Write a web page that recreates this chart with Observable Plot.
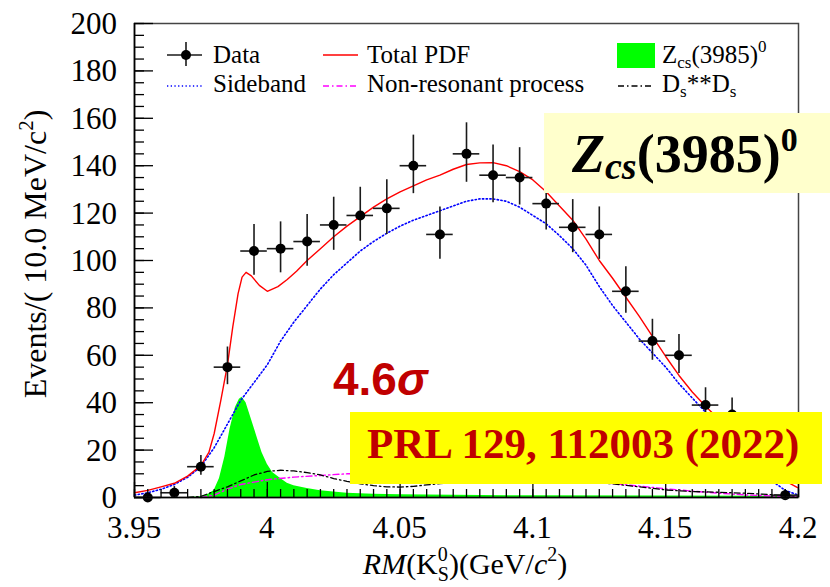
<!DOCTYPE html>
<html><head><meta charset="utf-8">
<script src="https://cdn.jsdelivr.net/npm/d3@7"></script>
<script src="https://cdn.jsdelivr.net/npm/@observablehq/plot@0.6"></script>
<style>html,body{margin:0;padding:0;background:#fff;} svg{display:block}</style>
</head><body><div id="chart"></div>
<script>
// ---------- data ----------
const binCenters = [3.955,3.965,3.975,3.985,3.995,4.005,4.015,4.025,4.035,4.045,4.055,4.065,4.075,4.085,4.095,4.105,4.115,4.125,4.135,4.145,4.155,4.165,4.175,4.185,4.195];
const counts     = [0,2,13,55,104,105,108,115,119,122,140,111,145,136,135,124,114,111,87,66,60,39,35,18,1];
const errLow     = [0,1.3,3.6,7.4,10.2,10.2,10.4,10.7,10.9,11.0,11.8,10.5,12.0,11.6,11.6,11.1,10.7,10.5,9.3,8.1,7.7,6.2,5.9,4.2,0.8];
const errHigh    = [1.8,2.6,4.7,8.5,11.2,11.3,11.4,11.7,11.9,12.1,12.9,11.6,13.1,12.7,12.6,12.2,11.7,11.6,10.4,9.2,8.8,7.3,7.0,5.3,2.3];
const binHalfWidth = 0.005;

const totalX = [3.95,3.955,3.96,3.965,3.97,3.975,3.978,3.98,3.9825,3.985,3.987,3.989,3.9905,3.992,3.994,3.997,4.0,4.004,4.0075,4.011,4.015,4.02,4.025,4.03,4.035,4.04,4.045,4.05,4.055,4.06,4.065,4.07,4.075,4.08,4.085,4.09,4.095,4.1,4.105,4.11,4.115,4.12,4.125,4.13,4.135,4.14,4.145,4.15,4.155,4.16,4.165,4.17,4.175,4.18,4.185,4.19,4.195,4.2];
const totalY = [2,3,4.5,6,9,13.5,19,27,41,56,72,86,93,95,93.5,89.5,87,89,92,95.5,100,105,110,114.5,118.5,122.5,126,129,131.5,134,136,138.5,140.5,141.2,141.3,140,137.5,134,129,123,117,109,100,92.5,84.5,76.5,68,59.5,51.5,44.5,38.5,33,27,21.5,16,11,7,4];

const sidebandX = [3.95,3.955,3.96,3.965,3.97,3.975,3.98,3.985,3.99,3.995,4.0,4.005,4.01,4.015,4.02,4.025,4.03,4.035,4.04,4.045,4.05,4.055,4.06,4.065,4.07,4.075,4.08,4.085,4.09,4.095,4.1,4.105,4.11,4.115,4.12,4.125,4.13,4.135,4.14,4.145,4.15,4.155,4.16,4.165,4.17,4.175,4.18,4.185,4.19,4.195,4.2];
const sidebandY = [1,2,3.5,5.5,8.5,13,21,31,41,48.5,56,66,74,81,88,94,99,104,108,111.5,114.5,117,119,121,123,125,126,126,125,122.5,119,115.5,110.5,105,98,89,81,74,67,61,55,48,42,36,30,24,18,12,7,3,1];

const nonResX = [3.975,3.98,3.985,3.99,3.995,4.0,4.01,4.02,4.03,4.04,4.05,4.06,4.07,4.08,4.09,4.1,4.11,4.12,4.13,4.14,4.15,4.16,4.17,4.18,4.19,4.2];
const nonResY = [0,1,3.5,5.5,6.5,7.5,8.6,9.3,10,10,10,9.8,9.5,9,8.5,8,7.3,6.6,5.9,4.8,3.7,2.7,1.8,1.1,0.6,0.2];

const dsdsX = [3.97,3.975,3.98,3.985,3.99,3.995,4.0,4.005,4.01,4.015,4.02,4.025,4.03,4.035,4.04,4.045,4.05,4.055,4.06,4.065,4.07,4.075,4.08,4.09,4.1,4.11,4.12,4.13,4.14,4.15,4.16,4.17,4.18,4.19,4.2];
const dsdsY = [0,0.5,2.5,4.5,7,9.5,11,11.5,11.2,10.5,9.5,8,6.8,5.8,5,4.5,4.4,4.7,5.3,5.9,6.3,6.6,6.8,7,7,6.8,6.4,5.8,4.5,3.2,2.5,2.2,1.8,1.2,0.5];

const zcsX = [3.97,3.975,3.978,3.98,3.982,3.984,3.986,3.988,3.9895,3.9905,3.992,3.994,3.996,3.998,4.0,4.002,4.005,4.0075,4.01,4.015,4.02,4.03,4.04,4.05,4.07,4.1,4.15,4.2];
const zcsY = [0,0.3,1.5,3,8,17,29,38,41.5,42.3,40,33,26,19,14,10.5,8,6,5,3.8,2.8,1.8,1.4,1.2,0.9,0.7,0.6,0.5];

const xTickLabels = [3.95,4,4.05,4.1,4.15,4.2];
const xMinorTicks = d3.range(0,51).map(i => +(3.95 + i*0.005).toFixed(3));
const yTickLabels = [0,20,40,60,80,100,120,140,160,180,200];
const yMinorTicks = d3.range(0,41).map(i => i*5);

// ---------- build ----------
const zip = (xs, ys) => xs.map((x,i) => ({x, y: ys[i]}));
const pts = binCenters.map((x,i) => ({x, n: counts[i], lo: counts[i]-errLow[i], hi: counts[i]+errHigh[i]}));

const W = 830, H = 587, mL = 134, mR = 32, mT = 23, mB = 90;
const innerW = W - mL - mR, innerH = H - mT - mB;
const serif = "Liberation Serif";

const plot = Plot.plot({
  width: W, height: H, marginLeft: mL, marginRight: mR, marginTop: mT, marginBottom: mB,
  x: {domain: [3.95, 4.2], axis: null},
  y: {domain: [0, 200], axis: null},
  style: {background: "white", color: "black"},
  marks: [
    Plot.areaY(zip(zcsX, zcsY), {x: "x", y: "y", fill: "#00ff00"}),
    Plot.line(zip(sidebandX, sidebandY), {x: "x", y: "y", stroke: "#0000ff", strokeWidth: 1.6, strokeDasharray: "1.3 2.4"}),
    Plot.line(zip(nonResX, nonResY), {x: "x", y: "y", stroke: "#ff00ff", strokeWidth: 1.4, strokeDasharray: "6 3 1.5 3"}),
    Plot.line(zip(dsdsX, dsdsY), {x: "x", y: "y", stroke: "black", strokeWidth: 1.3, strokeDasharray: "6 3 1.5 3"}),
    Plot.line(zip(totalX, totalY), {x: "x", y: "y", stroke: "#ff0000", strokeWidth: 1.4}),
    Plot.ruleY(pts, {y: "n", x1: d => d.x - binHalfWidth, x2: d => d.x + binHalfWidth, stroke: "#1a1a1a", strokeWidth: 1.6}),
    Plot.ruleX(pts, {x: "x", y1: "lo", y2: "hi", stroke: "#1a1a1a", strokeWidth: 1.6}),
    Plot.dot(pts, {x: "x", y: "n", r: 5, fill: "black", stroke: "none"}),
    Plot.frame({stroke: "#444", strokeWidth: 1.5}),
    // inward ticks
    Plot.tickY(yMinorTicks, {stroke: "black", strokeWidth: 1.3, insetRight: innerW - 10}),
    Plot.tickY(yTickLabels, {stroke: "black", strokeWidth: 1.3, insetRight: innerW - 19}),
    Plot.tickX(xMinorTicks, {stroke: "black", strokeWidth: 1.3, insetTop: innerH - 8}),
    Plot.tickX(xTickLabels, {stroke: "black", strokeWidth: 1.3, insetTop: innerH - 15}),
    Plot.ruleX([3.95], {stroke: "black", strokeWidth: 1.6}),
    Plot.ruleY([0], {stroke: "black", strokeWidth: 1.6})
  ]
});
document.getElementById("chart").appendChild(plot);

// ---------- tick labels (positioned with Plot's scales) ----------
const svg = d3.select(plot);
const sx = plot.scale("x"), sy = plot.scale("y");
const axg = svg.append("g").attr("font-family", serif).attr("font-size", 31).attr("fill", "black");
axg.selectAll("text.yl").data(yTickLabels).join("text").attr("class", "yl")
  .attr("text-anchor", "end").attr("x", mL - 17).attr("y", d => sy.apply(d) + 11).text(d => String(d));
axg.selectAll("text.xl").data(xTickLabels).join("text").attr("class", "xl")
  .attr("text-anchor", "middle").attr("x", d => sx.apply(d)).attr("y", H - mB + 41).text(d => String(d));

function rich(parent, attrs, parts) {
  const t = parent.append("text").attr("text-anchor", "start");
  for (const k in attrs) t.attr(k, attrs[k]);
  for (const p of parts) {
    const s = t.append("tspan").text(p.t);
    if (p.dx != null) s.attr("dx", p.dx);
    if (p.dy != null) s.attr("dy", p.dy);
    if (p.size) s.attr("font-size", p.size);
    if (p.it) s.attr("font-style", "italic");
    if (p.bold) s.attr("font-weight", "bold");
  }
  return t;
}

// y title
rich(svg, {transform: "translate(46,254) rotate(-90)", "text-anchor": "middle", "font-size": 32, "font-family": serif, fill: "black"},
  [{t: "Events/( 10.0 MeV/c"}, {t: "2", size: 21, dy: -13}, {t: ")", size: 32, dy: 13}]);

// x title
rich(svg, {x: 465, y: 574, "text-anchor": "middle", "font-size": 30, "font-family": serif, fill: "black"},
  [{t: "RM", it: true}, {t: "(K"}, {t: "0", size: 20, dy: -13}, {t: "S", size: 20, dx: -10, dy: 20},
   {t: ")(GeV/", size: 30, dy: -7}, {t: "c", it: true}, {t: "2", size: 20, dy: -13}, {t: ")", size: 30, dy: 13}]);

// legend
const lg = svg.append("g").attr("font-family", serif).attr("font-size", 25).attr("fill", "black").attr("text-anchor", "start");
lg.append("line").attr("x1",167).attr("x2",202).attr("y1",55).attr("y2",55).attr("stroke","#1a1a1a").attr("stroke-width",1.6);
lg.append("line").attr("x1",186).attr("x2",186).attr("y1",42).attr("y2",66).attr("stroke","#1a1a1a").attr("stroke-width",1.6);
lg.append("circle").attr("cx",186).attr("cy",55).attr("r",5).attr("fill","black");
lg.append("text").attr("x",213).attr("y",63).attr("text-anchor","start").text("Data");
lg.append("line").attr("x1",323).attr("x2",358).attr("y1",55).attr("y2",55).attr("stroke","#ff0000").attr("stroke-width",1.4);
lg.append("text").attr("x",367).attr("y",63).attr("text-anchor","start").text("Total PDF");
lg.append("rect").attr("x",617).attr("y",43).attr("width",38).attr("height",25).attr("fill","#00ff00");
rich(lg, {x: 662, y: 63}, [{t: "Z"}, {t: "cs", size: 17, dy: 5}, {t: "(3985)", size: 25, dy: -5}, {t: "0", size: 17, dy: -11}]);
lg.append("line").attr("x1",167).attr("x2",202).attr("y1",86).attr("y2",86).attr("stroke","#0000ff").attr("stroke-width",1.6).attr("stroke-dasharray","1.3 2.4");
lg.append("text").attr("x",213).attr("y",92).attr("text-anchor","start").text("Sideband");
lg.append("line").attr("x1",323).attr("x2",356).attr("y1",86).attr("y2",86).attr("stroke","#ff00ff").attr("stroke-width",1.4).attr("stroke-dasharray","6 3 1.5 3");
lg.append("text").attr("x",367).attr("y",92).attr("text-anchor","start").text("Non-resonant process");
lg.append("line").attr("x1",618).attr("x2",654).attr("y1",86).attr("y2",86).attr("stroke","black").attr("stroke-width",1.3).attr("stroke-dasharray","6 3 1.5 3");
rich(lg, {x: 662, y: 92}, [{t: "D"}, {t: "s", size: 17, dy: 5}, {t: "**D", size: 25, dy: -5}, {t: "s", size: 17, dy: 5}]);

// Zcs label box
svg.append("rect").attr("x",544).attr("y",113).attr("width",290).attr("height",80).attr("fill","#ffffcc");
rich(svg, {x: 572, y: 172, "font-family": serif, "font-size": 54, "font-weight": "bold", fill: "black"},
  [{t: "Z", it: true}, {t: "cs", it: true, size: 38, dy: 7}, {t: "(3985)", size: 54, dy: -7}, {t: "0", size: 34, dy: -21}]);

// significance
rich(svg, {x: 333, y: 395, "font-family": "Liberation Sans", "font-size": 46, "font-weight": "bold", fill: "#c00000"},
  [{t: "4.6"}, {t: "σ", it: true}]);

// reference box
svg.append("rect").attr("x",350).attr("y",412).attr("width",472).attr("height",72).attr("fill","#ffff00");
const prl = svg.append("g").attr("font-family", serif).attr("font-size", 43).attr("font-weight", "bold").attr("fill", "#c00000");
prl.append("text").attr("x",367).attr("y",458).attr("text-anchor","start").text("PRL 129, 112003 (2022)");
</script>
</body></html>
